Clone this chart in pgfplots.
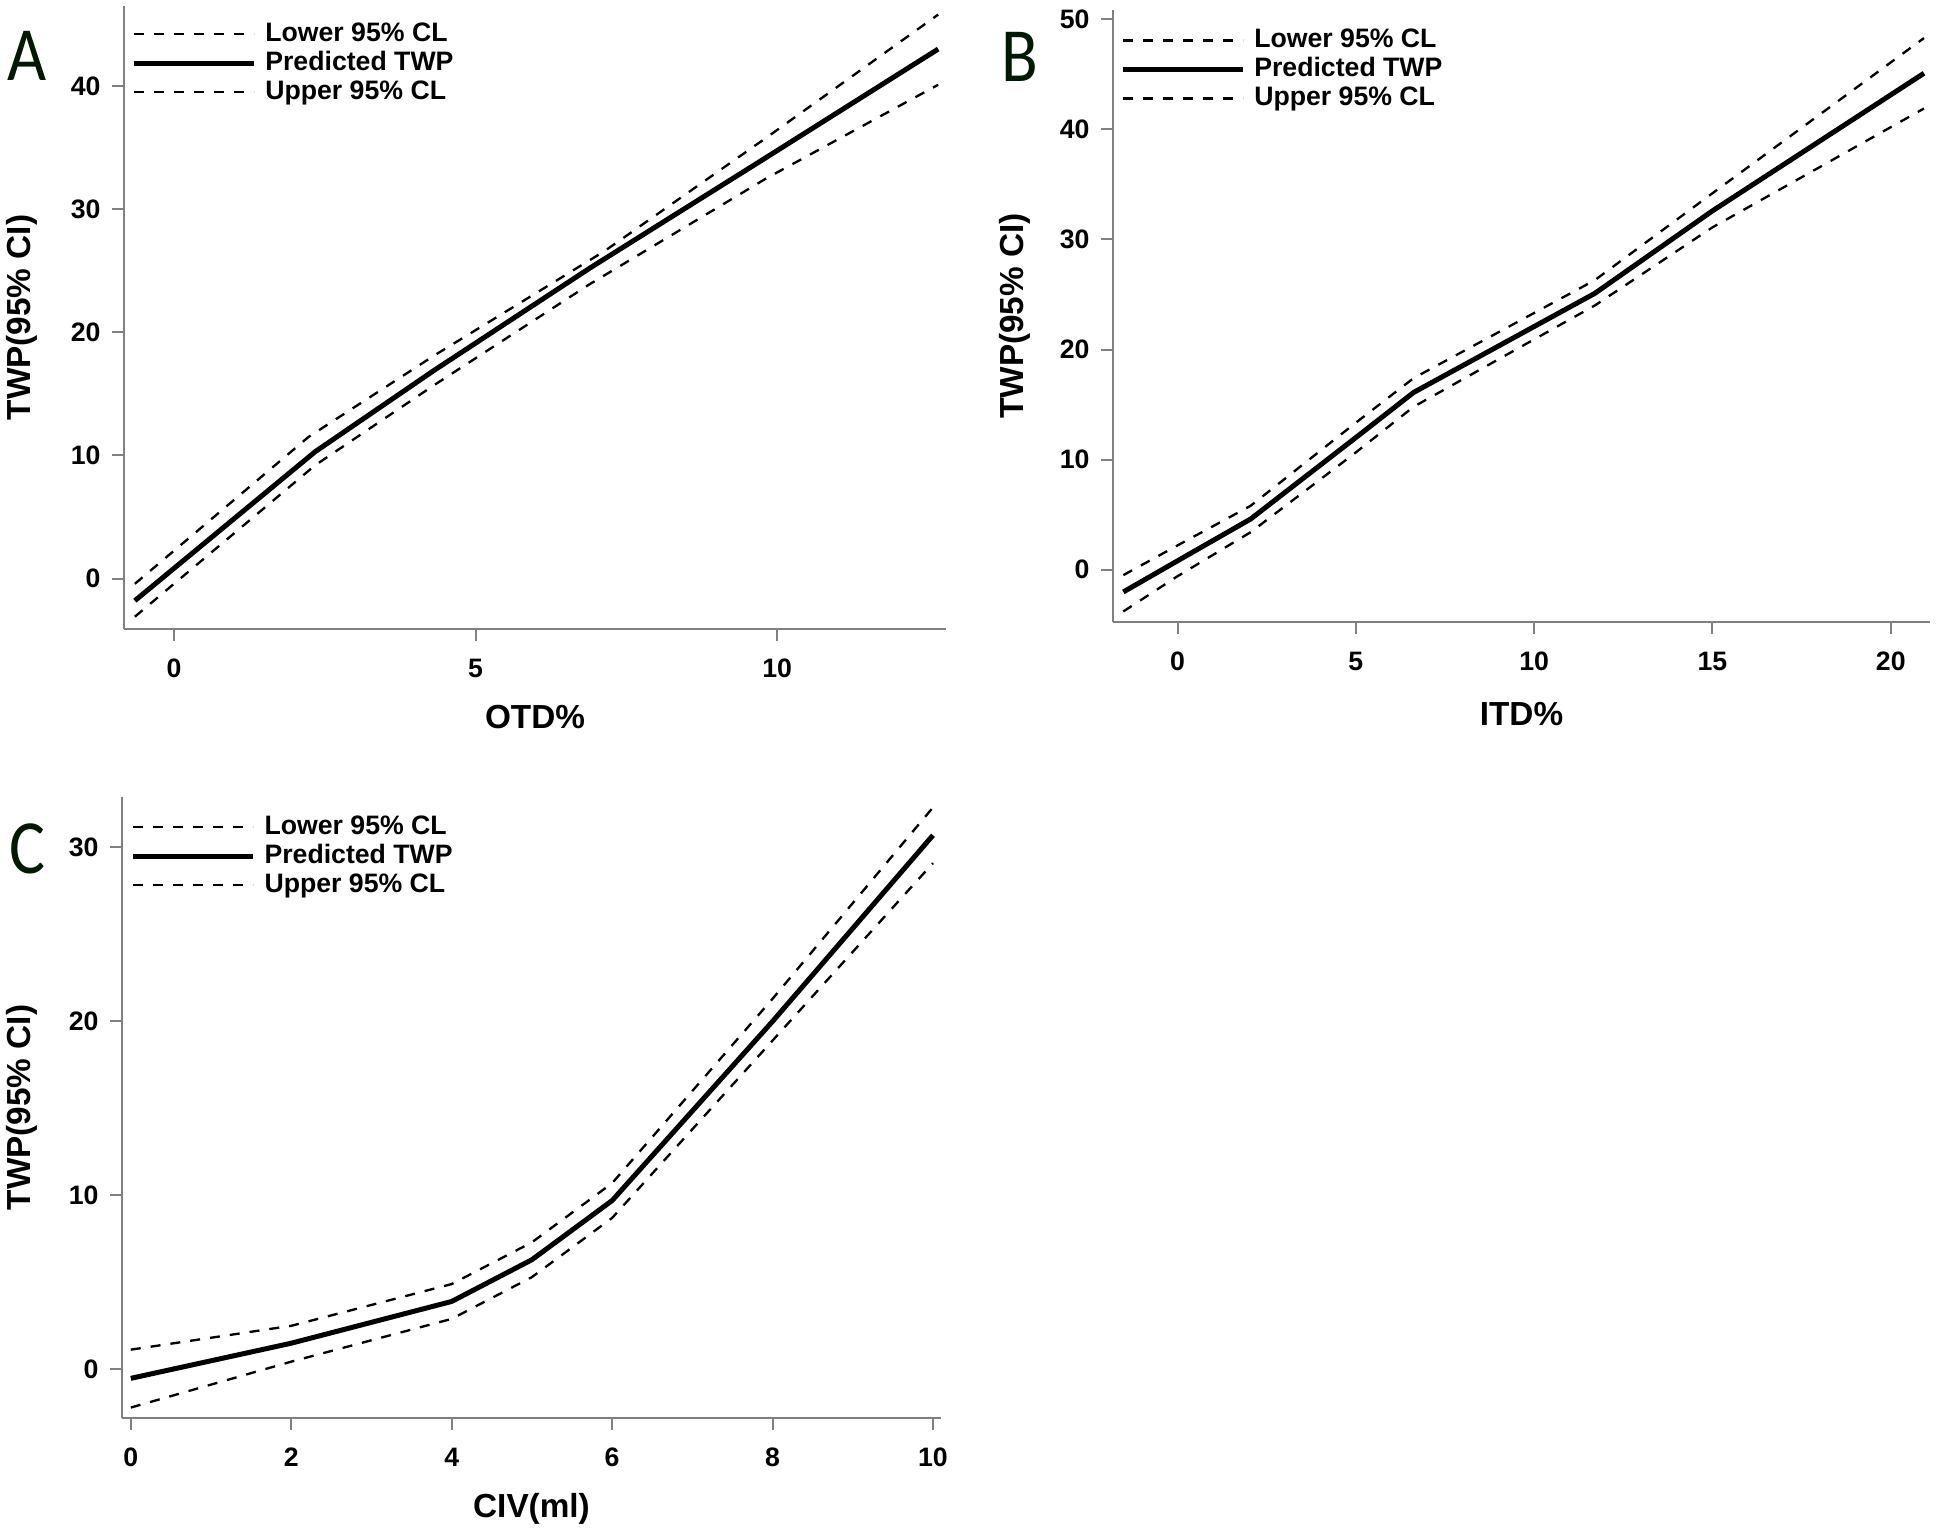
\documentclass[border=0pt]{standalone}
\usepackage{pgfplots}
\pgfplotsset{compat=1.18}
\usepackage{fontspec}
\setmainfont{Liberation Sans}
\newfontfamily\letterfont{Carlito}

\pgfplotsset{
  twp/.style={
    scale only axis,
    axis lines=left,
    axis line style={-, draw=black!50, line width=0.6pt},
    tick align=outside,
    major tick length=3.5pt,
    tick style={draw=black!50, line width=0.6pt},
    /pgf/number format/assume math mode=true,
    ticklabel style={font=\bfseries\fontsize{8}{9}\selectfont},
    xticklabel style={yshift=-2pt},
    label style={font=\bfseries\fontsize{10}{12}\selectfont},
    clip=false,
    legend style={draw=none, fill=none, anchor=north west,
      font=\bfseries\fontsize{8}{9}\selectfont, cells={anchor=west},
      column sep=2pt, row sep=0pt, inner sep=0pt,
      nodes={inner sep=0.6pt, text height=5.9pt, text depth=1.6pt}},
    legend image code/.code={\draw[##1] (0pt,0pt) -- (36pt,0pt);},
  },
  cl/.style={black, line width=0.7pt, dash pattern=on 3pt off 3pt},
  pred/.style={black, line width=1.5pt},
}
\tikzset{panel/.style={font=\letterfont\fontsize{23}{23}\selectfont, xscale=0.88, text=black!90!green}}

\begin{document}
\begin{tikzpicture}
\useasboundingbox (0,0) rectangle (583.8pt,-459.9pt);

% panel A
\begin{axis}[twp, at={(37.2pt,-1.8pt)}, anchor=north west,
  width=246.6pt, height=186.9pt,
  xmin=-0.83, xmax=12.8, ymin=-4.1, ymax=46.5,
  xtick={0,5,10}, ytick={0,10,20,30,40},
  xlabel={OTD\%}, ylabel={TWP(95\% CI)},
  xlabel style={at={(axis description cs:0.5,-0.141)}, anchor=center},
  ylabel style={at={(axis description cs:-0.124,0.5)}, anchor=center},
  legend style={at={(axis description cs:0.0085,0.979)}},
]
\addplot[cl] coordinates {(-0.65,-3.1) (2.34,9.2) (4.31,15.7) (6.89,23.9) (9.82,32.5) (12.67,40.1)};
\addlegendentry{Lower 95\% CL}
\addplot[pred] coordinates {(-0.65,-1.8) (2.34,10.3) (4.31,16.9) (6.89,25.2) (9.82,34.2) (12.67,43.0)};
\addlegendentry{Predicted TWP}
\addplot[cl] coordinates {(-0.65,-0.43) (2.23,11.5) (4.31,18.1) (7.14,26.6) (9.82,35.8) (12.67,45.8)};
\addlegendentry{Upper 95\% CL}
\node[panel] at (axis description cs:-0.118,0.92) {A};
\end{axis}

% panel B
\begin{axis}[twp, at={(333.9pt,-3pt)}, anchor=north west,
  width=245.1pt, height=183.6pt,
  xmin=-1.81, xmax=21.1, ymin=-4.76, ymax=50.85,
  xtick={0,5,10,15,20}, ytick={0,10,20,30,40,50},
  xlabel={ITD\%}, ylabel={TWP(95\% CI)},
  xlabel style={at={(axis description cs:0.5,-0.150)}, anchor=center},
  ylabel style={at={(axis description cs:-0.12,0.5)}, anchor=center},
  legend style={at={(axis description cs:0.0085,0.975)}},
]
\addplot[cl] coordinates {(-1.52,-3.8) (0,-0.6) (2.05,3.4) (4.98,10.6) (6.62,14.8) (11.7,24.0) (15,31.1) (20.93,41.9)};
\addlegendentry{Lower 95\% CL}
\addplot[pred] coordinates {(-1.52,-2.03) (0,0.8) (2.05,4.6) (4.98,11.95) (6.62,16.1) (11.7,25.1) (15,32.6) (20.93,45.1)};
\addlegendentry{Predicted TWP}
\addplot[cl] coordinates {(-1.52,-0.5) (0,2.2) (2.05,5.8) (4.98,13.3) (6.62,17.4) (11.7,26.3) (15,34.2) (20.93,48.3)};
\addlegendentry{Upper 95\% CL}
\node[panel] at (axis description cs:-0.114,0.923) {B};
\end{axis}

% panel C
\begin{axis}[twp, at={(36.6pt,-239.1pt)}, anchor=north west,
  width=245.7pt, height=186.3pt,
  xmin=-0.11, xmax=10.1, ymin=-2.8, ymax=32.9,
  xtick={0,2,4,6,8,10}, ytick={0,10,20,30},
  xlabel={CIV(ml)}, ylabel={TWP(95\% CI)},
  xlabel style={at={(axis description cs:0.5,-0.147)}, anchor=center},
  ylabel style={at={(axis description cs:-0.122,0.5)}, anchor=center},
  legend style={at={(axis description cs:0.01,0.976)}},
]
\addplot[cl] coordinates {(0,-2.2) (2,0.44) (4,2.9) (5,5.3) (6,8.7) (8,18.9) (10,29.1)};
\addlegendentry{Lower 95\% CL}
\addplot[pred] coordinates {(0,-0.52) (2,1.5) (4,3.9) (5,6.3) (6,9.7) (8,20.0) (10,30.7)};
\addlegendentry{Predicted TWP}
\addplot[cl] coordinates {(0,1.13) (2,2.5) (4,4.9) (5,7.3) (6,10.7) (8,21.3) (10,32.3)};
\addlegendentry{Upper 95\% CL}
\node[panel] at (axis description cs:-0.116,0.916) {C};
\end{axis}
\end{tikzpicture}
\end{document}
